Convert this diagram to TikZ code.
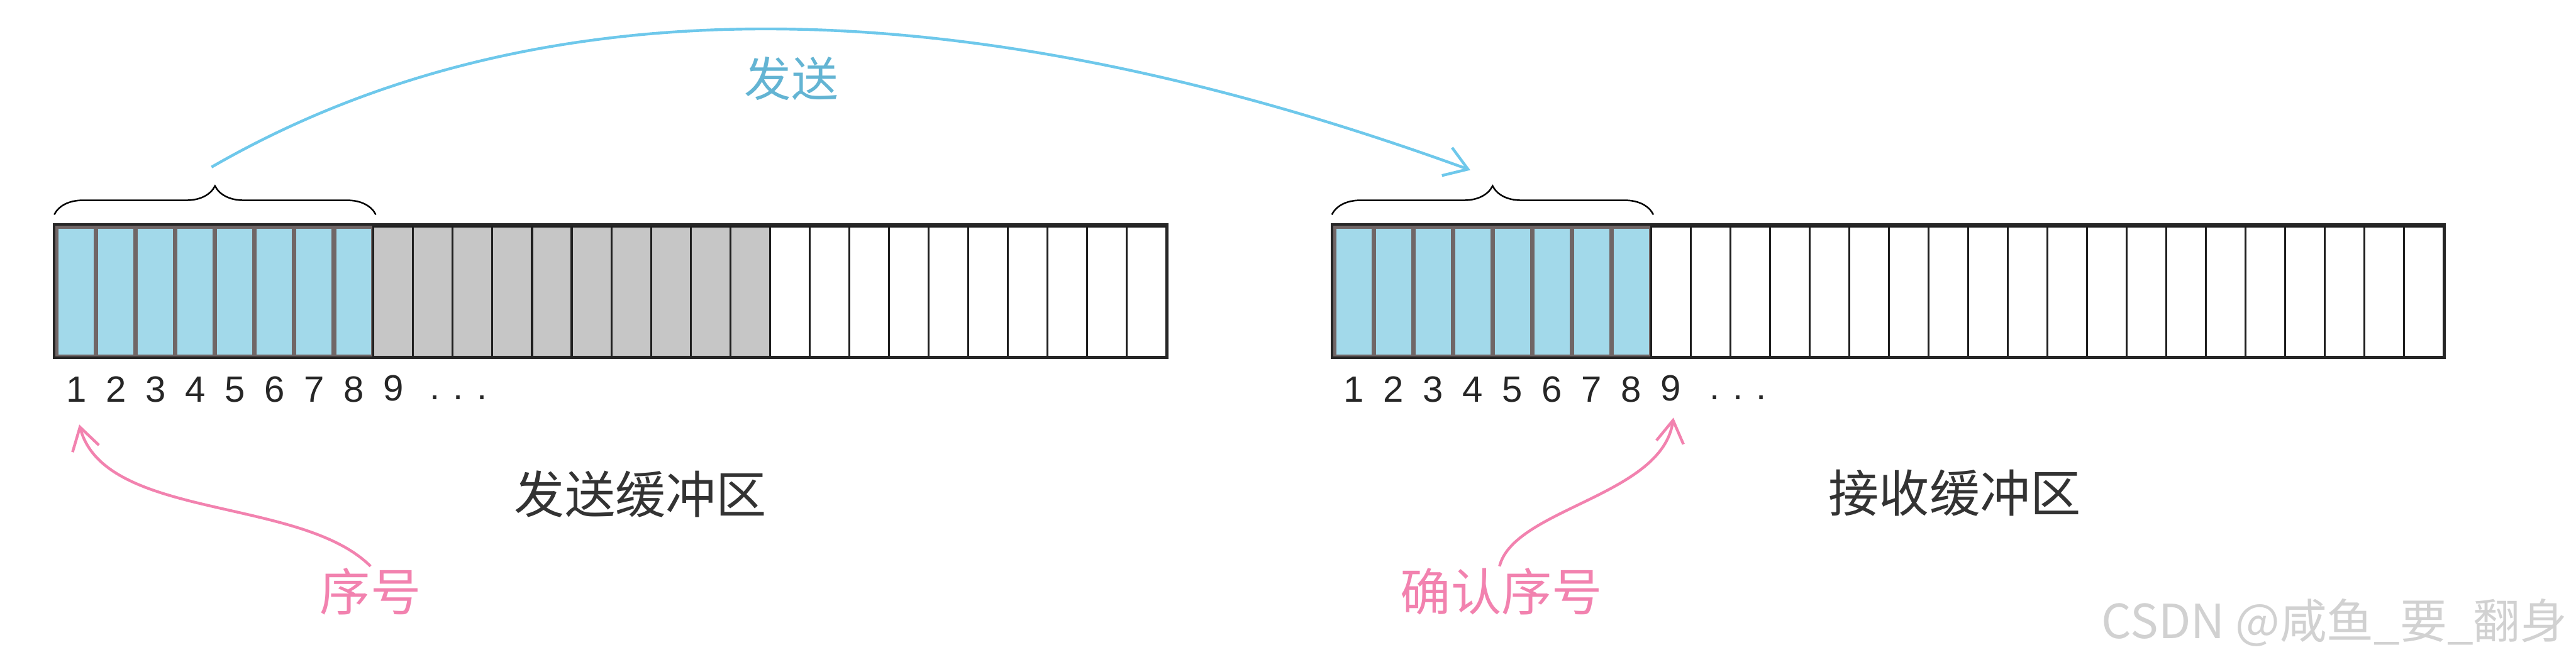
\documentclass[tikz,border=0pt]{standalone}
\usepackage{fontspec}
\setmainfont{Liberation Sans}
\newfontfamily\cjk{Noto Sans CJK SC}
\usetikzlibrary{arrows.meta,calc,decorations.pathreplacing}
\definecolor{bufblue}{RGB}{162,217,234}
\definecolor{bufgray}{RGB}{198,198,198}
\definecolor{bufedge}{RGB}{112,102,102}
\definecolor{sendblue}{RGB}{110,200,235}
\definecolor{seqpink}{RGB}{242,130,175}

\begin{document}
\begin{tikzpicture}
\tikzstyle{cell}=[rectangle,minimum width=0.8cm,minimum height=2.62cm,inner sep=0pt,draw=black!88,line width=1.1pt]
\tikzstyle{sent}=[cell,fill=bufblue,draw=bufedge,line width=2.6pt]
\tikzstyle{wait}=[cell,fill=bufgray]
\tikzstyle{free}=[cell,fill=white]
\tikzstyle{frameline}=[draw=black!85,line width=1.4pt]
\tikzstyle{digit}=[inner sep=0pt,anchor=base,font=\fontsize{21pt}{24pt}\selectfont,text=black!85]
\tikzstyle{brace}=[draw,line width=0.9pt,decorate,decoration={brace,amplitude=0.58cm}]
\tikzstyle{title}=[font=\cjk\fontsize{29pt}{33pt}\selectfont,text=black!80]
\tikzstyle{sendlbl}=[font=\cjk\fontsize{27pt}{30pt}\selectfont,text=sendblue!90!black]
\tikzstyle{seqlbl}=[font=\cjk\fontsize{29pt}{32pt}\selectfont,text=seqpink,inner sep=1pt]
\tikzstyle{sendarrow}=[draw=sendblue,line width=1.6pt,-{Straight Barb[length=0.45cm,width=0.6cm]}]
\tikzstyle{seqarrow}=[draw=seqpink,line width=1.6pt,-{Straight Barb[length=0.45cm,width=0.55cm]}]
\tikzstyle{wmark}=[font=\cjk\fontsize{27pt}{30pt}\selectfont,text=black!18]

\fill[white] (0,0) rectangle (52,13.36);
\useasboundingbox (0,0) rectangle (52,13.36);

% send buffer
\foreach \i in {1,...,8} \node[sent] (s\i) at (0.74+0.8*\i,7.47) {};
\foreach \i in {9,...,18} \node[wait] (s\i) at (0.74+0.8*\i,7.47) {};
\foreach \i in {19,...,28} \node[free] (s\i) at (0.74+0.8*\i,7.47) {};
\draw[frameline] (s1.north west) rectangle (s28.south east);

% receive buffer
\foreach \i in {1,...,8} \node[sent] (r\i) at (26.53+0.8*\i,7.47) {};
\foreach \i in {9,...,28} \node[free] (r\i) at (26.53+0.8*\i,7.47) {};
\draw[frameline] (r1.north west) rectangle (r28.south east);

% sequence numbers
\foreach \i in {1,...,9} {
  \node[digit] (sd\i) at ($(s\i.south)+(0,-0.87)$) {\i};
  \node[digit] (rd\i) at ($(r\i.south)+(0,-0.87)$) {\i};
}
\node[digit,anchor=base west] (sdots) at (8.67,5.29) {.\kern0.27cm.\kern0.27cm.};
\node[digit,anchor=base west] (rdots) at (34.50,5.29) {.\kern0.27cm.\kern0.27cm.};

% windows
\draw[brace] ([yshift=0.2cm]s1.north west) -- ([yshift=0.2cm]s8.north east);
\draw[brace] ([yshift=0.2cm]r1.north west) -- ([yshift=0.2cm]r8.north east);
\coordinate (sbtip) at ($(s1.north west)!0.5!(s8.north east)+(0,0.78)$);
\coordinate (rbtip) at ($(r1.north west)!0.5!(r8.north east)+(0,0.78)$);
\coordinate (sendfrom) at ($(sbtip)+(-0.07,0.38)$);
\coordinate (sendto) at ($(rbtip)+(-0.45,0.32)$);

\path (sendfrom) edge[sendarrow,out=30,in=160,out distance=7.5cm,in distance=11cm] (sendto);
\node[sendlbl] (sendtxt) at (15.98,11.77) {发送};

% buffer names
\node[title] (sendbuf) at (12.93,3.38) {发送缓冲区};
\node[title] (recvbuf) at (39.46,3.41) {接收缓冲区};

% pointers
\node[seqlbl] (seq) at (7.48,1.41) {序号};
\node[seqlbl] (ack) at (30.31,1.41) {确认序号};
\coordinate (seqtip) at ($(sd1.south)+(0.06,-0.45)$);
\coordinate (acktip) at ($(rd9.south)+(0.05,-0.33)$);
\path (seq.north) edge[seqarrow,out=135,in=-75,out distance=2cm,in distance=2cm] (seqtip);
\coordinate (ackfrom) at (ack.north -| 30.27,0);
\path (ackfrom) edge[seqarrow,out=76,in=-98,out distance=1.2cm,in distance=1.6cm] (acktip);

\node[wmark,anchor=east] (csdn) at (51.95,0.78) {CSDN @咸鱼\_要\_翻身};
\end{tikzpicture}
\end{document}
